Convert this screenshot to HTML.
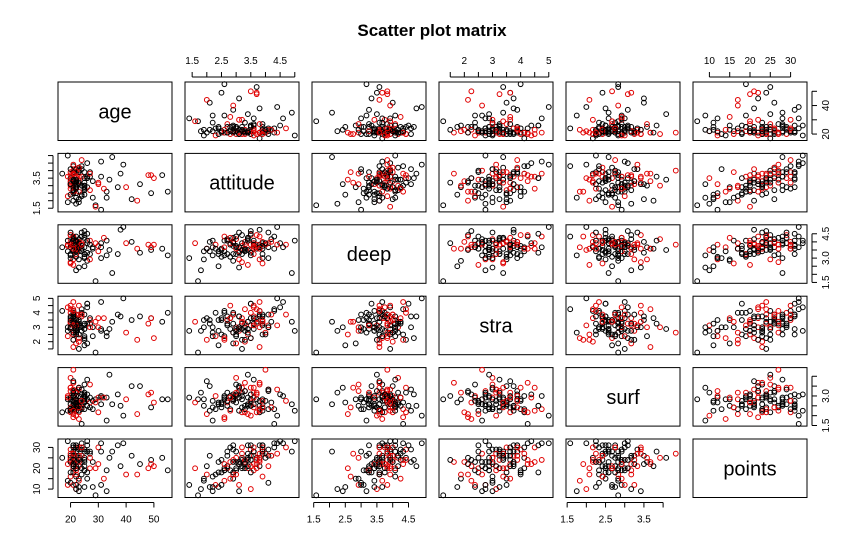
<!DOCTYPE html>
<html><head><meta charset="utf-8"><style>
html,body{margin:0;padding:0;background:#fff}
svg{display:block;font-family:"Liberation Sans",Arial,sans-serif}
</style></head><body>
<svg id="chart" width="865" height="556" viewBox="0 0 865 556" xmlns="http://www.w3.org/2000/svg">
<rect width="865" height="556" fill="#fff"/>
<text x="432" y="36" text-anchor="middle" font-size="17" font-weight="bold">Scatter plot matrix</text>
</svg>
<script>
const varNames = ["age","attitude","deep","stra","surf","points"];
const age = [53,21,49,22,49,38,50,37,21,42,22,21,24,20,23,33,21,44,29,30,27,21,31,22,26,20,21,33,22,28,26,27,25,31,20,39,21,24,26,25,30,25,21,48,24,40,25,23,25,23,27,25,23,23,23,45,22,23,21,21,21,21,26,25,21,23,22,22,22,24,19,17,20,21,21,22,20,19,22,35,20,21,22,23,24,20,21,22,19,20,21,22,23,24,25,26,27,28,20,21,55,22,23,20,21,22,19,20,21,22,24,25,20,21,23,22,29,31,34,32];
const attitude = [3.7,3.1,2.5,3.5,3.7,3.8,3.5,2.9,3.8,2.1,3.9,3.8,2.4,3.0,4.1,2.6,2.6,2.0,1.7,3.2,3.9,3.3,3.6,4.1,2.9,3.5,3.4,2.2,2.9,3.3,4.5,2.7,3.2,1.4,3.3,4.4,2.5,3.6,3.6,3.0,3.1,2.4,4.3,3.7,4.3,2.9,3.0,1.9,2.7,3.3,3.6,2.8,3.6,4.2,2.6,3.1,2.2,3.9,3.4,2.9,3.4,4.0,3.5,3.9,3.8,2.1,1.8,3.9,3.2,4.1,2.3,3.8,3.5,2.6,3.9,3.2,2.8,5.0,3.0,4.9,3.1,2.7,3.6,4.0,2.3,3.2,3.4,2.8,1.9,3.7,3.3,2.5,4.2,3.0,2.9,3.5,3.8,2.2,3.1,4.4,2.6,3.4,3.2,3.9,2.0,3.0,3.6,4.1,2.7,3.3,4.7,3.5,2.4,3.8,3.1,2.9,1.6,4.6,3.4,2.8];
const deep = [3.58,2.92,3.50,3.50,3.67,4.75,3.83,3.25,4.33,4.00,3.58,3.83,3.42,4.17,3.92,4.08,3.42,3.58,1.58,3.75,3.25,3.58,3.92,3.67,2.83,4.42,4.25,3.17,4.00,3.58,3.92,4.08,4.42,3.00,3.83,4.92,3.58,3.92,4.08,3.25,3.42,2.50,3.58,3.83,4.33,3.92,3.67,2.92,3.25,4.00,3.83,3.08,3.58,4.17,3.67,3.33,4.08,3.92,2.58,3.75,4.25,3.83,4.50,3.00,3.58,3.42,2.25,4.00,3.50,4.58,3.83,3.67,3.17,4.33,3.75,3.25,3.92,4.08,3.58,2.08,3.67,4.08,3.25,3.92,3.58,2.75,4.17,3.83,3.42,4.42,3.50,3.08,4.00,3.75,4.25,3.33,2.92,3.67,4.58,3.83,3.17,4.08,3.92,2.67,3.58,4.33,3.75,3.00,4.17,3.42,3.83,4.67,3.25,3.58,2.42,4.00,3.92,3.67,3.50,4.25];
const stra = [3.38,2.75,3.63,3.13,3.63,3.75,2.25,3.88,4.75,3.50,2.50,3.88,2.75,3.00,3.13,2.38,4.13,2.13,1.25,3.63,3.25,4.25,2.88,3.88,1.88,4.00,3.38,2.63,3.88,3.00,4.38,3.50,2.13,2.75,3.25,5.00,2.50,3.75,3.25,2.88,3.00,1.75,4.13,3.25,4.25,2.63,2.38,3.50,3.13,2.00,3.63,2.88,4.50,3.38,2.25,3.75,3.00,3.13,2.50,4.00,3.38,2.63,4.63,3.88,1.63,3.25,2.75,3.50,2.88,3.00,2.38,4.13,3.63,2.13,3.75,3.25,4.50,2.75,1.88,3.38,2.88,3.75,3.13,2.50,4.00,3.38,2.63,3.63,3.00,4.25,2.13,3.50,3.88,2.75,3.25,4.63,3.00,2.38,3.75,3.13,4.00,2.88,1.50,3.38,3.63,2.50,4.38,3.00,3.25,2.75,3.88,2.25,3.50,4.13,3.00,2.63,3.38,4.75,2.88,3.63];
const surf = [2.83,3.25,2.42,2.00,3.17,2.50,2.67,3.08,2.33,3.50,2.25,2.75,2.58,3.92,3.33,2.92,3.00,2.08,2.83,2.17,2.42,3.67,2.58,3.25,2.83,3.42,2.50,1.75,3.00,2.33,3.08,2.67,3.17,2.92,3.25,2.00,2.58,2.42,3.83,3.00,2.92,2.67,2.33,3.08,1.58,2.83,3.58,2.50,2.75,2.17,2.92,2.33,3.42,2.67,1.83,3.50,2.42,2.58,2.08,2.75,2.92,4.33,2.50,2.83,3.67,2.25,3.17,2.75,2.42,3.33,3.00,2.17,2.83,1.92,2.42,2.83,2.25,2.25,3.17,2.58,2.92,2.50,3.17,2.75,2.33,3.42,2.58,3.00,2.83,2.17,3.25,2.67,2.42,3.08,2.92,2.50,3.58,2.75,2.25,3.33,2.83,2.58,3.00,2.42,3.75,2.67,2.92,2.33,3.17,2.50,2.75,3.08,2.58,2.25,3.42,2.83,2.67,3.00,4.08,2.92];
const points = [25,12,24,10,22,21,21,31,24,26,31,31,23,25,21,19,20,17,7,30,27,22,28,26,15,29,27,9,24,23,33,20,25,12,24,32,18,26,28,19,22,11,30,20,32,17,23,15,21,23,28,19,30,26,14,22,16,29,20,18,24,27,31,28,23,11,10,30,21,29,12,25,26,22,31,20,23,33,17,28,23,28,19,25,17,27,21,30,14,24,22,12,26,20,29,18,25,11,23,27,19,31,24,16,21,28,22,13,26,20,30,24,18,27,9,23,20,32,25,15];
const gender = "FMFMMFMFMFFFFMMFFMFMFMFFFMFFMFFMFFMFFMFFMFFMFMFFFMFFMFMFFFMFFMFFMFFMFFMFFMFFMFMFFFMFFMFFFMFFMFFFMFFMFFFMFFMFFFMFFMFFMFFM".split("");
// tick values and labels per variable
const tickVals = [[20,30,40,50],[1.5,2,2.5,3,3.5,4,4.5,5],[1.5,2,2.5,3,3.5,4,4.5],[1.5,2,2.5,3,3.5,4,4.5,5],[1.5,2,2.5,3,3.5,4],[10,15,20,25,30]];
const hTickLabels = [["20","30","40","50"],["1.5","2.5","3.5","4.5"],["1.5","2.5","3.5","4.5"],["2","3","4","5"],["1.5","2.5","3.5"],["10","15","20","25","30"]];
const vTickLabels = [["20","40"],["1.5","3.5"],["1.5","3.0","4.5"],["2","3","4","5"],["1.5","3.0"],["10","20","30"]];

const data = [age,attitude,deep,stra,surf,points];
const NS = "http://www.w3.org/2000/svg";
const svg = document.getElementById("chart");
const PX0 = 58, PSTEP = 127, PW = 114, PY0 = 82, PYSTEP = 71.4, PH = 58.5;
function mk(tag, attrs, parent){const e=document.createElementNS(NS,tag);for(const k in attrs)e.setAttribute(k,attrs[k]);(parent||svg).appendChild(e);return e;}
const ranges = data.map(a=>{const mn=Math.min(...a),mx=Math.max(...a),p=(mx-mn)*0.04;return [mn-p,mx+p];});
function xScale(v,c){const r=ranges[c];return PX0+c*PSTEP+(v-r[0])/(r[1]-r[0])*PW;}
function yScale(v,rw){const r=ranges[rw];return PY0+rw*PYSTEP+PH-(v-r[0])/(r[1]-r[0])*PH;}

for(let r=0;r<6;r++){for(let c=0;c<6;c++){
  const x0=PX0+c*PSTEP,y0=PY0+r*PYSTEP;
  const g=mk("g",{});
  
  
  const box=mk("rect",{x:x0,y:y0,width:PW,height:PH,fill:"none",stroke:"#000","stroke-width":1},g);
  
  
  if(r===c){
    const t=mk("text",{x:x0+PW/2,y:y0+PH/2+7,"text-anchor":"middle","font-size":20},g);
    t.textContent=varNames[r];
    
    
  } else {
    for(let i=0;i<age.length;i++){
      const p=mk("circle",{cx:xScale(data[c][i],c),cy:yScale(data[r][i],r),r:2.4,fill:"none",stroke:gender[i]==="M"?"#e00000":"#000","stroke-width":1},g);
      
      
    }
  }
}}
function hAxis(c,top){
  const g=mk("g",{});
  
  
  const yb=top?PY0:PY0+5*PYSTEP+PH, d=top?-1:1;
  const tv=tickVals[c];
  mk("line",{x1:xScale(tv[0],c),x2:xScale(tv[tv.length-1],c),y1:yb+d*5,y2:yb+d*5,stroke:"#000"},g);
  tv.forEach(v=>mk("line",{x1:xScale(v,c),x2:xScale(v,c),y1:yb+d*5,y2:yb+d*10,stroke:"#000"},g));
  hTickLabels[c].forEach(l=>{const t=mk("text",{x:xScale(parseFloat(l),c),y:top?yb-18:yb+25,"text-anchor":"middle","font-size":10},g);t.textContent=l;
    
    });
}
function vAxis(r,left){
  const g=mk("g",{});
  
  
  const xb=left?PX0:PX0+5*PSTEP+PW, d=left?-1:1;
  const tv=tickVals[r];
  mk("line",{y1:yScale(tv[0],r),y2:yScale(tv[tv.length-1],r),x1:xb+d*5,x2:xb+d*5,stroke:"#000"},g);
  tv.forEach(v=>mk("line",{y1:yScale(v,r),y2:yScale(v,r),x1:xb+d*5,x2:xb+d*10,stroke:"#000"},g));
  vTickLabels[r].forEach(l=>{const x=left?xb-18:xb+22,y=yScale(parseFloat(l),r);
    const t=mk("text",{x:x,y:y,"text-anchor":"middle","font-size":10,transform:"rotate(-90 "+x+" "+y+")"},g);t.textContent=l;
    
    });
}
[1,3,5].forEach(c=>hAxis(c,true));
[0,2,4].forEach(c=>hAxis(c,false));
[1,3,5].forEach(r=>vAxis(r,true));
[0,2,4].forEach(r=>vAxis(r,false));
</script>
</body></html>
